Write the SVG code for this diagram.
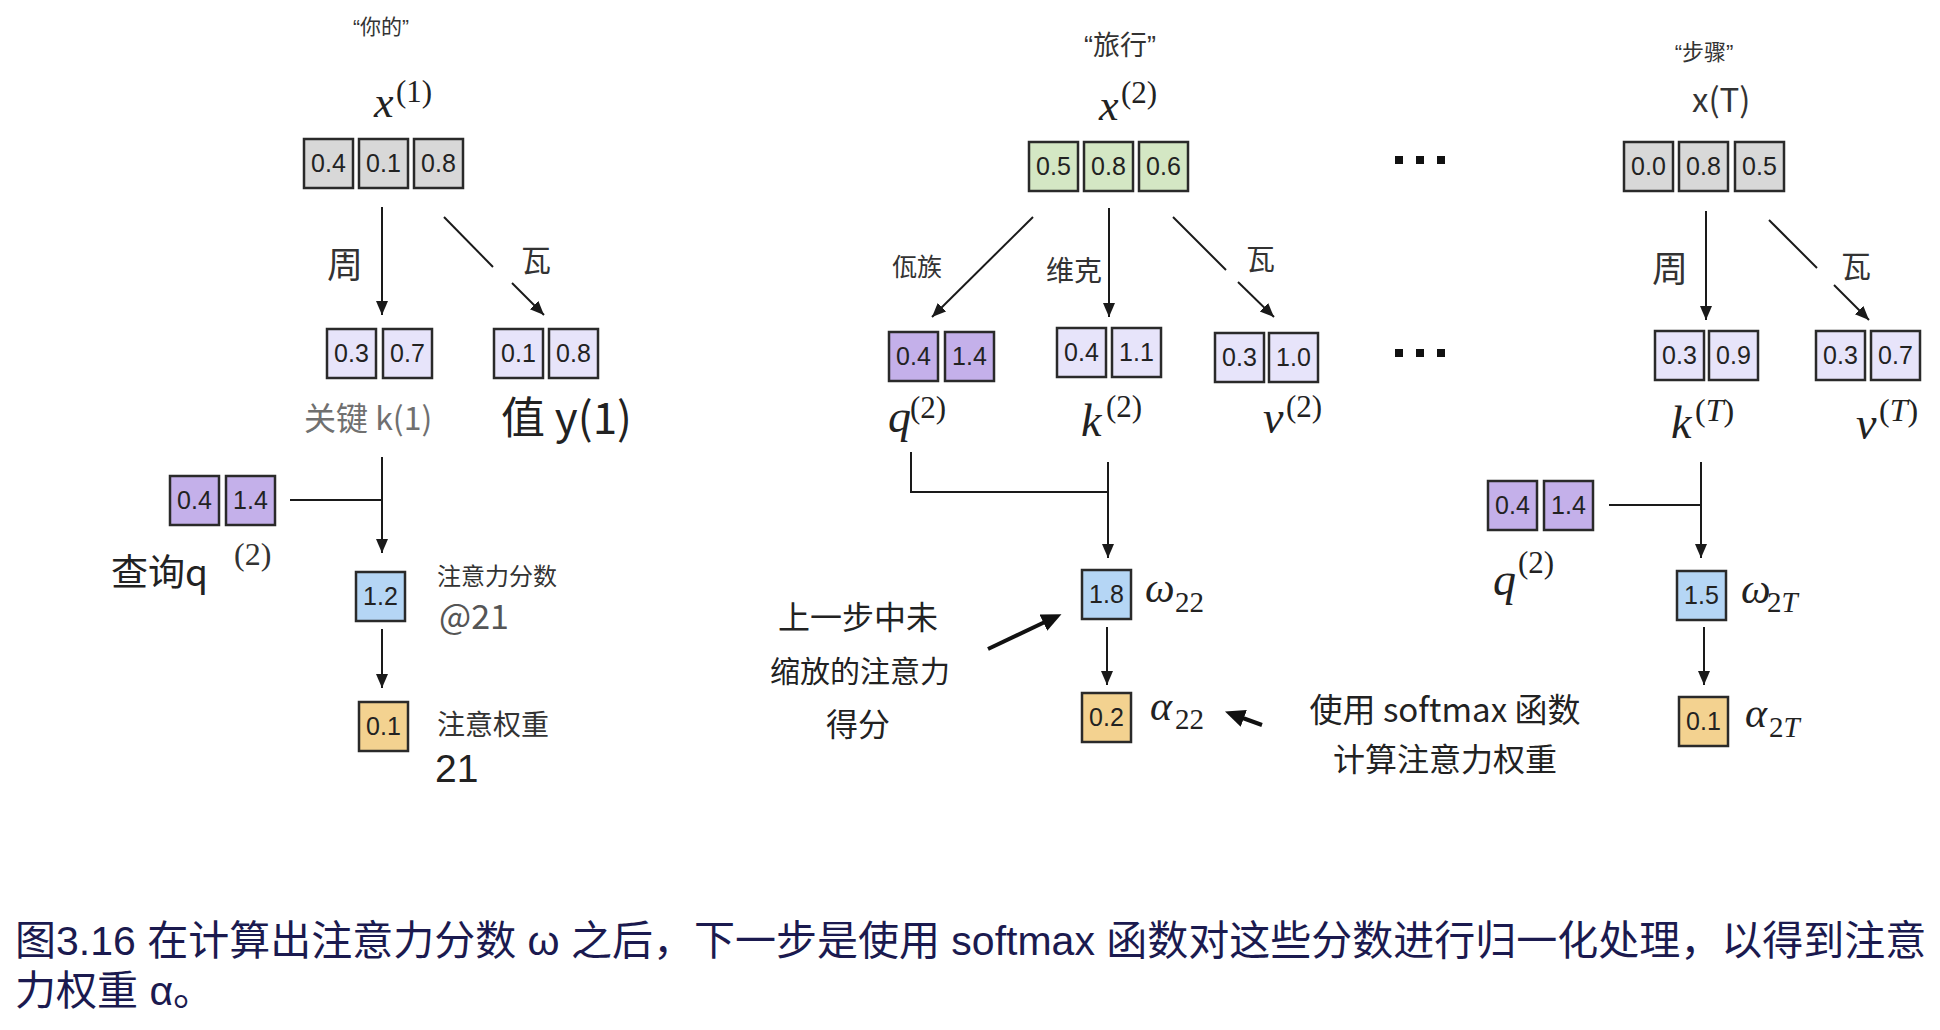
<svg xmlns="http://www.w3.org/2000/svg" width="1940" height="1030" viewBox="0 0 1940 1030">
<style>
.b{stroke:#2a2a2a;stroke-width:2.5}
.gray{fill:#d8d8d8}.green{fill:#d4e7c4}.lav{fill:#e7e4fa}.pur{fill:#c4b0ea}.blue{fill:#b5d6f5}.org{fill:#f3d290}
.n{font-family:"Liberation Sans",Arial,sans-serif;font-size:25px;fill:#222;text-anchor:middle}
.cj{font-family:"Noto Sans CJK SC","Liberation Sans",sans-serif;fill:#333}
.q{font-family:"Liberation Sans","Noto Sans CJK SC",sans-serif;fill:#333;text-anchor:middle}
.m{font-family:"Liberation Serif","Times New Roman",serif;fill:#222}
.i{font-style:italic}
.ln{stroke:#1a1a1a;stroke-width:2;fill:none}
.ar{stroke:#1a1a1a;stroke-width:2;fill:none;marker-end:url(#ah)}
.ar2{stroke:#111;stroke-width:4;fill:none;marker-end:url(#ah2)}
.cap{font-family:"Liberation Sans","Noto Sans CJK SC",sans-serif;font-size:41px;fill:#1b1a4f}
</style>
<defs>
<marker id="ah" markerUnits="userSpaceOnUse" markerWidth="16" markerHeight="14" refX="14" refY="6" orient="auto"><path d="M0,0 L14,6 L0,12 z" fill="#1a1a1a"/></marker>
<marker id="ah2" markerUnits="userSpaceOnUse" markerWidth="22" markerHeight="20" refX="4" refY="9" orient="auto"><path d="M0,0 L20,9 L0,18 z" fill="#111"/></marker>
</defs>
<rect width="1940" height="1030" fill="#fff"/>

<g id="connectors">
<!-- left -->
<line class="ar" x1="382" y1="207" x2="382" y2="315"/>
<line class="ln" x1="444" y1="217" x2="493" y2="267"/>
<line class="ar" x1="512" y1="283" x2="544" y2="315"/>
<line class="ln" x1="290" y1="500" x2="382" y2="500"/>
<line class="ar" x1="382" y1="457" x2="382" y2="553"/>
<line class="ar" x1="382" y1="629" x2="382" y2="688"/>
<!-- middle -->
<line class="ar" x1="1033" y1="217" x2="932" y2="317"/>
<line class="ar" x1="1109" y1="208" x2="1109" y2="317"/>
<line class="ln" x1="1173" y1="217" x2="1226" y2="270"/>
<line class="ar" x1="1238" y1="282" x2="1274" y2="317"/>
<polyline class="ln" points="911,452 911,492 1108,492"/>
<line class="ar" x1="1108" y1="462" x2="1108" y2="558"/>
<line class="ar" x1="1107" y1="627" x2="1107" y2="685"/>
<line class="ar2" x1="988" y1="649" x2="1047" y2="621"/>
<line class="ar2" x1="1262" y1="725" x2="1240" y2="717"/>
<!-- right -->
<line class="ar" x1="1706" y1="211" x2="1706" y2="320"/>
<line class="ln" x1="1769" y1="220" x2="1817" y2="268"/>
<line class="ar" x1="1834" y1="285" x2="1869" y2="320"/>
<line class="ln" x1="1609" y1="505" x2="1701" y2="505"/>
<line class="ar" x1="1701" y1="462" x2="1701" y2="558"/>
<line class="ar" x1="1704" y1="627" x2="1704" y2="685"/>
</g>

<g id="dots">
<rect x="1395" y="156" width="8" height="8" fill="#111"/><rect x="1416" y="156" width="8" height="8" fill="#111"/><rect x="1437" y="156" width="8" height="8" fill="#111"/>
<rect x="1395" y="349" width="8" height="8" fill="#111"/><rect x="1416" y="349" width="8" height="8" fill="#111"/><rect x="1437" y="349" width="8" height="8" fill="#111"/>
</g>

<!-- LEFT COLUMN -->
<g id="word1"><text class="q" x="381" y="34" font-size="21">“你的”</text></g>
<g id="x1">
<text class="m" x="374" y="117" font-size="44"><tspan class="i">x</tspan><tspan x="396" y="102" font-size="31">(1)</tspan></text>
<rect class="b gray" x="304" y="139" width="49" height="49"/><text class="n" x="328.5" y="172">0.4</text>
<rect class="b gray" x="359" y="139" width="49" height="49"/><text class="n" x="383.5" y="172">0.1</text>
<rect class="b gray" x="414" y="139" width="49" height="49"/><text class="n" x="438.5" y="172">0.8</text>
</g>
<g id="wlabels1">
<text class="cj" x="327" y="278" font-size="36">周</text>
<text class="cj" x="521" y="271" font-size="30">瓦</text>
</g>
<g id="k1">
<rect class="b lav" x="327" y="329" width="49" height="49"/><text class="n" x="351.5" y="362">0.3</text>
<rect class="b lav" x="383" y="329" width="49" height="49"/><text class="n" x="407.5" y="362">0.7</text>
<text class="cj" x="304" y="430" font-size="32" style="fill:#707070">关键 k(1)</text>
</g>
<g id="v1">
<rect class="b lav" x="494" y="329" width="49" height="49"/><text class="n" x="518.5" y="362">0.1</text>
<rect class="b lav" x="549" y="329" width="49" height="49"/><text class="n" x="573.5" y="362">0.8</text>
<text class="cj" x="501" y="434" font-size="44" style="fill:#222">值 y(1)</text>
</g>
<g id="q1">
<rect class="b pur" x="170" y="476" width="49" height="49"/><text class="n" x="194.5" y="509">0.4</text>
<rect class="b pur" x="226" y="476" width="49" height="49"/><text class="n" x="250.5" y="509">1.4</text>
<text class="cj" x="111" y="586" font-size="37" style="fill:#222">查询q</text>
<text class="m" x="234" y="565" font-size="32" style="fill:#333">(2)</text>
</g>
<g id="s1">
<rect class="b blue" x="356" y="572" width="49" height="49"/><text class="n" x="380.5" y="605">1.2</text>
<text class="cj" x="437" y="585" font-size="24">注意力分数</text>
<text class="cj" x="439" y="629" font-size="34" style="fill:#555">@21</text>
</g>
<g id="a1">
<rect class="b org" x="359" y="702" width="49" height="49"/><text class="n" x="383.5" y="735">0.1</text>
<text class="cj" x="437" y="735" font-size="28">注意权重</text>
<text x="435" y="782" font-size="39" style="font-family:'Liberation Sans',Arial,sans-serif;fill:#222">21</text>
</g>

<!-- MIDDLE COLUMN -->
<g id="word2"><text class="q" x="1120" y="55" font-size="27">“旅行”</text></g>
<g id="x2">
<text class="m" x="1099" y="120" font-size="44"><tspan class="i">x</tspan><tspan x="1121" y="103" font-size="31">(2)</tspan></text>
<rect class="b green" x="1029" y="142" width="49" height="49"/><text class="n" x="1053.5" y="175">0.5</text>
<rect class="b green" x="1084" y="142" width="49" height="49"/><text class="n" x="1108.5" y="175">0.8</text>
<rect class="b green" x="1139" y="142" width="49" height="49"/><text class="n" x="1163.5" y="175">0.6</text>
</g>
<g id="wlabels2">
<text class="cj" x="892" y="276" font-size="25">佤族</text>
<text class="cj" x="1046" y="281" font-size="28">维克</text>
<text class="cj" x="1246" y="270" font-size="29">瓦</text>
</g>
<g id="q2">
<rect class="b pur" x="889" y="332" width="49" height="49"/><text class="n" x="913.5" y="365">0.4</text>
<rect class="b pur" x="945" y="332" width="49" height="49"/><text class="n" x="969.5" y="365">1.4</text>
<text class="m" x="888" y="432" font-size="46"><tspan class="i">q</tspan><tspan x="910" y="418" font-size="31">(2)</tspan></text>
</g>
<g id="k2">
<rect class="b lav" x="1057" y="328" width="49" height="49"/><text class="n" x="1081.5" y="361">0.4</text>
<rect class="b lav" x="1112" y="328" width="49" height="49"/><text class="n" x="1136.5" y="361">1.1</text>
<text class="m" x="1081" y="436" font-size="46"><tspan class="i">k</tspan><tspan x="1106" y="417" font-size="31">(2)</tspan></text>
</g>
<g id="v2">
<rect class="b lav" x="1215" y="333" width="49" height="49"/><text class="n" x="1239.5" y="366">0.3</text>
<rect class="b lav" x="1269" y="333" width="49" height="49"/><text class="n" x="1293.5" y="366">1.0</text>
<text class="m" x="1263" y="433" font-size="46"><tspan class="i">v</tspan><tspan x="1286" y="417" font-size="31">(2)</tspan></text>
</g>
<g id="s2">
<rect class="b blue" x="1082" y="570" width="49" height="49"/><text class="n" x="1106.5" y="603">1.8</text>
<text class="m" x="1145" y="602" font-size="42"><tspan class="i">ω</tspan><tspan x="1175" y="612" font-size="29">22</tspan></text>
</g>
<g id="a2">
<rect class="b org" x="1082" y="693" width="49" height="49"/><text class="n" x="1106.5" y="726">0.2</text>
<text class="m" x="1150" y="720" font-size="42"><tspan class="i">α</tspan><tspan x="1175" y="729" font-size="29">22</tspan></text>
</g>
<g id="note1">
<text class="cj" x="858" y="629" font-size="32" text-anchor="middle" style="fill:#222">上一步中未</text>
<text class="cj" x="860" y="682" font-size="30" text-anchor="middle" style="fill:#222">缩放的注意力</text>
<text class="cj" x="858" y="736" font-size="32" text-anchor="middle" style="fill:#222">得分</text>
</g>
<g id="note2">
<text class="cj" x="1445" y="722" font-size="33" text-anchor="middle" style="fill:#222">使用 softmax 函数</text>
<text class="cj" x="1445" y="771" font-size="32" text-anchor="middle" style="fill:#222">计算注意力权重</text>
</g>

<!-- RIGHT COLUMN -->
<g id="word3"><text class="q" x="1704" y="60" font-size="22">“步骤”</text></g>
<g id="xT">
<text class="cj" x="1692" y="112" font-size="33">x(T)</text>
<rect class="b gray" x="1624" y="142" width="49" height="49"/><text class="n" x="1648.5" y="175">0.0</text>
<rect class="b gray" x="1679" y="142" width="49" height="49"/><text class="n" x="1703.5" y="175">0.8</text>
<rect class="b gray" x="1735" y="142" width="49" height="49"/><text class="n" x="1759.5" y="175">0.5</text>
</g>
<g id="wlabels3">
<text class="cj" x="1652" y="282" font-size="36">周</text>
<text class="cj" x="1841" y="277" font-size="30">瓦</text>
</g>
<g id="kT">
<rect class="b lav" x="1655" y="331" width="49" height="49"/><text class="n" x="1679.5" y="364">0.3</text>
<rect class="b lav" x="1709" y="331" width="49" height="49"/><text class="n" x="1733.5" y="364">0.9</text>
<text class="m" x="1671" y="438" font-size="46"><tspan class="i">k</tspan><tspan x="1695" y="421" font-size="32">(<tspan class="i">T</tspan>)</tspan></text>
</g>
<g id="vT">
<rect class="b lav" x="1816" y="331" width="49" height="49"/><text class="n" x="1840.5" y="364">0.3</text>
<rect class="b lav" x="1871" y="331" width="49" height="49"/><text class="n" x="1895.5" y="364">0.7</text>
<text class="m" x="1856" y="439" font-size="46"><tspan class="i">v</tspan><tspan x="1879" y="421" font-size="32">(<tspan class="i">T</tspan>)</tspan></text>
</g>
<g id="q2r">
<rect class="b pur" x="1488" y="481" width="49" height="49"/><text class="n" x="1512.5" y="514">0.4</text>
<rect class="b pur" x="1544" y="481" width="49" height="49"/><text class="n" x="1568.5" y="514">1.4</text>
<text class="m" x="1493" y="595" font-size="46"><tspan class="i">q</tspan><tspan x="1518" y="573" font-size="31">(2)</tspan></text>
</g>
<g id="sT">
<rect class="b blue" x="1677" y="571" width="49" height="49"/><text class="n" x="1701.5" y="604">1.5</text>
<text class="m" x="1741" y="603" font-size="42"><tspan class="i">ω</tspan><tspan x="1767" y="612" font-size="29">2<tspan class="i">T</tspan></tspan></text>
</g>
<g id="aT">
<rect class="b org" x="1679" y="697" width="49" height="49"/><text class="n" x="1703.5" y="730">0.1</text>
<text class="m" x="1745" y="727" font-size="42"><tspan class="i">α</tspan><tspan x="1769" y="737" font-size="29">2<tspan class="i">T</tspan></tspan></text>
</g>

<g id="caption">
<text class="cap" x="15" y="955">图3.16 在计算出注意力分数 ω 之后，下一步是使用 softmax 函数对这些分数进行归一化处理，以得到注意</text>
<text class="cap" x="15" y="1005">力权重 α。</text>
</g>
</svg>
